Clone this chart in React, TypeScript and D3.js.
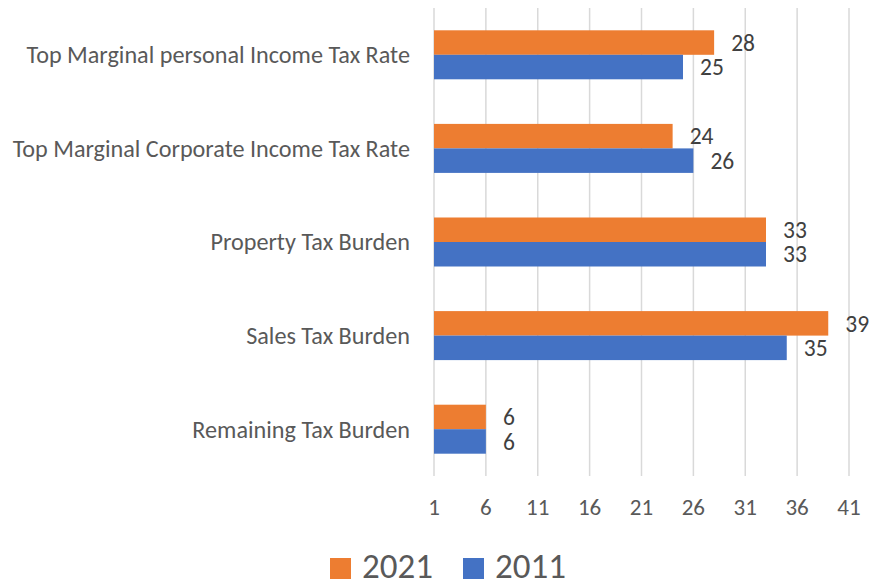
import React, { useEffect } from "react";
import * as d3 from "d3";

const categories = [
  "Top Marginal personal Income Tax Rate",
  "Top Marginal Corporate Income Tax Rate",
  "Property Tax Burden",
  "Sales Tax Burden",
  "Remaining Tax Burden",
];
const seriesNames = ["2021", "2011"];
const values2021 = [28, 24, 33, 39, 6];
const values2011 = [25, 26, 33, 35, 6];
const tickValues = [1, 6, 11, 16, 21, 26, 31, 36, 41];
const colors = ["#ED7D31", "#4472C4"];

const W = 878;
const H = 585;
const FONT = "Carlito, Lato, 'Open Sans', sans-serif";

export default function App() {
  useEffect(() => {
    document.body.style.margin = "0";
  }, []);

  const x = d3.scaleLinear().domain([1, 41]).range([434, 849]);
  const y = d3.scaleBand<string>().domain(categories).range([8, 476]).padding(0);
  const inner = d3
    .scaleBand<string>()
    .domain(seriesNames)
    .range([0, 49])
    .padding(0);
  const groupOffset = (y.bandwidth() - 49) / 2;
  const series = [values2021, values2011];

  return (
    <svg width={W} height={H} style={{ display: "block" }} fontFamily={FONT}>
      <rect width={W} height={H} fill="#ffffff" />
      {tickValues.map((t) => (
        <line
          key={"g" + t}
          x1={x(t)}
          x2={x(t)}
          y1={8}
          y2={476}
          stroke="#d9d9d9"
          strokeWidth={1.5}
        />
      ))}
      {categories.map((c, i) => (
        <g key={c} transform={`translate(0,${y(c)! + groupOffset})`}>
          {series.map((vals, s) => {
            const by = inner(seriesNames[s])!;
            return (
              <g key={s}>
                <rect
                  x={x(1)}
                  y={by}
                  width={x(vals[i]) - x(1)}
                  height={inner.bandwidth()}
                  fill={colors[s]}
                />
                <text
                  x={x(vals[i]) + 17}
                  y={by + inner.bandwidth() / 2}
                  dy="0.35em"
                  fontSize={23.5}
                  fill="#404040"
                >
                  {vals[i]}
                </text>
              </g>
            );
          })}
        </g>
      ))}
      {categories.map((c) => (
        <text
          key={"l" + c}
          x={410}
          y={y(c)! + y.bandwidth() / 2}
          dy="0.35em"
          textAnchor="end"
          fontSize={24.2}
          fill="#595959"
        >
          {c}
        </text>
      ))}
      {tickValues.map((t) => (
        <text
          key={"t" + t}
          x={x(t)}
          y={507}
          dy="0.35em"
          textAnchor="middle"
          fontSize={23}
          fill="#595959"
        >
          {t}
        </text>
      ))}
      <g>
        {seriesNames.map((n, s) => {
          const lx = s === 0 ? 330 : 463;
          return (
            <g key={n}>
              <rect x={lx} y={558} width={21} height={21} fill={colors[s]} />
              <text x={lx + 32} y={578} fontSize={35} fill="#595959">
                {n}
              </text>
            </g>
          );
        })}
      </g>
    </svg>
  );
}
